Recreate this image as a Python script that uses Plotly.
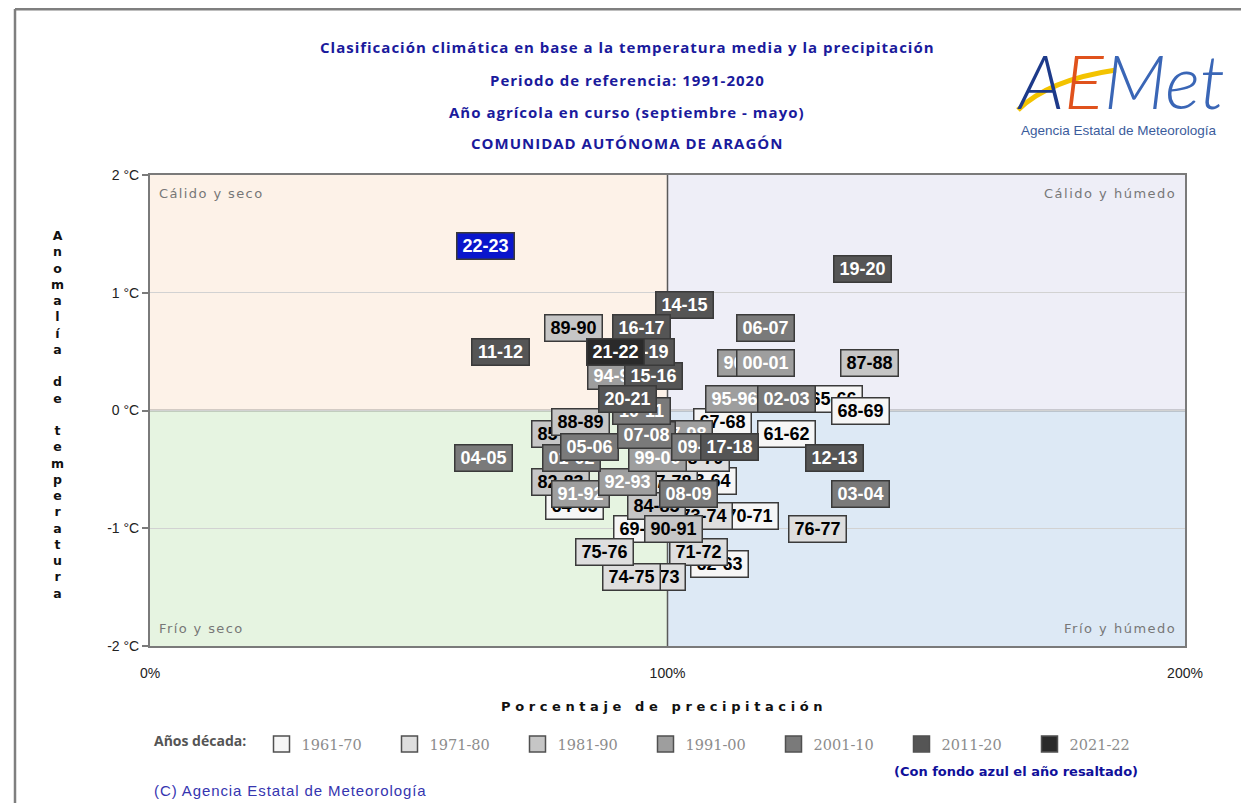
import plotly.graph_objects as go

# ---------------- data ----------------
years = ["61-62", "62-63", "63-64", "64-65", "65-66", "67-68", "68-69", "69-70", "70-71",
         "71-72", "72-73", "73-74", "74-75", "75-76", "76-77", "77-78", "78-79",
         "82-83", "84-85", "85-86", "87-88", "88-89", "89-90", "90-91",
         "91-92", "92-93", "94-95", "95-96", "96-97", "97-98", "99-00", "00-01",
         "01-02", "02-03", "03-04", "04-05", "05-06", "06-07", "07-08", "08-09", "09-10", "10-11",
         "11-12", "12-13", "14-15", "15-16", "16-17", "17-18", "18-19", "19-20", "20-21",
         "21-22", "22-23"]
precip_pct = [122.9, 110.1, 107.8, 82.1, 132.0, 110.7, 137.2, 95.1, 115.9,
              105.9, 97.8, 106.9, 93.1, 87.9, 128.9, 100.1, 106.3,
              79.4, 97.8, 79.4, 139.1, 83.1, 81.9, 101.1,
              83.1, 92.2, 90.2, 113.0, 115.2, 103.0, 98.0, 119.0,
              81.4, 122.9, 137.2, 64.5, 85.0, 119.0, 96.0, 104.0, 106.3, 94.9,
              67.8, 132.2, 103.2, 97.2, 94.9, 111.9, 95.8, 137.6, 92.2,
              90.0, 64.9]
temp_anom = [-0.20, -1.30, -0.60, -0.81, 0.10, -0.10, 0.00, -1.01, -0.90,
             -1.20, -1.41, -0.90, -1.41, -1.20, -1.01, -0.61, -0.40,
             -0.61, -0.81, -0.20, 0.40, -0.10, 0.70, -1.01,
             -0.71, -0.61, 0.29, 0.10, 0.40, -0.20, -0.40, 0.40,
             -0.40, 0.10, -0.71, -0.40, -0.31, 0.70, -0.21, -0.71, -0.31, 0.00,
             0.50, -0.40, 0.90, 0.29, 0.70, -0.31, 0.50, 1.20, 0.10,
             0.50, 1.40]
highlighted = "22-23"

decades = ["1961-70", "1971-80", "1981-90", "1991-00", "2001-10", "2011-20", "2021-22"]
decade_fill = ["#f6f6f6", "#dedede", "#c6c6c6", "#9e9e9e", "#7a7a7a", "#555555", "#2a2a2a"]
decade_text = ["#000000", "#000000", "#000000", "#ffffff", "#ffffff", "#ffffff", "#ffffff"]
highlight_fill = "#0a16cc"

y_ticks = [-2, -1, 0, 1, 2]
y_ticktext = ["-2 °C", "-1 °C", "0 °C", "1 °C", "2 °C"]
x_ticks = [0, 100, 200]
x_ticktext = ["0%", "100%", "200%"]

title_lines = ["Clasificación climática en base a la temperatura media y la precipitación",
               "Periodo de referencia: 1991-2020",
               "Año agrícola en curso (septiembre - mayo)",
               "COMUNIDAD AUTÓNOMA DE ARAGÓN"]
quadrants = ["Cálido y seco", "Cálido y húmedo", "Frío y seco", "Frío y húmedo"]

# ---------------- layout helpers (reference pixel -> paper) ----------------
PL, PR, PT, PB = 150, 1185, 175, 646


def px(x):
    return (x - PL) / (PR - PL)


def py(y):
    return (PB - y) / (PB - PT)


def spaced(text, sp):
    return f'<span style="letter-spacing:{sp}px">{text}</span>'


def decade_index(lbl):
    s = int(lbl[:2])
    yr = 1900 + s if s >= 50 else 2000 + s
    return min((yr - 1961) // 10, 6)


fig = go.Figure()

# legend entries
for name, fc in zip(decades, decade_fill):
    fig.add_trace(go.Scatter(x=[None], y=[None], mode="markers", name=name,
                             marker=dict(symbol="square", size=16, color=fc,
                                         line=dict(color="#505050", width=1.5))))

annotations = []
# labelled boxes, chronological order (later on top)
for lbl, xv, yv in zip(years, precip_pct, temp_anom):
    if lbl == highlighted:
        bg, fc = highlight_fill, "#ffffff"
    else:
        i = decade_index(lbl)
        bg, fc = decade_fill[i], decade_text[i]
    annotations.append(dict(x=xv, y=yv, xref="x", yref="y", text=f"<b>{lbl}</b>",
                            showarrow=False, bgcolor=bg, bordercolor="#3a3a3a",
                            borderwidth=1.5, borderpad=1, width=54, height=23,
                            xanchor="center", yanchor="middle",
                            font=dict(family="Liberation Sans", size=18, color=fc)))


def paper_text(x, y, text, font, xanchor="center"):
    return dict(x=px(x), y=py(y), xref="paper", yref="paper", text=text, showarrow=False,
                xanchor=xanchor, yanchor="middle", font=font)


# quadrant labels
qfont = dict(family="DejaVu Sans", size=13, color="#777777")
annotations += [
    paper_text(157, 193, spaced(quadrants[0], 1.4), qfont, "left"),
    paper_text(1178, 193, spaced(quadrants[1], 1.5), qfont, "right"),
    paper_text(157, 628, spaced(quadrants[2], 1.4), qfont, "left"),
    paper_text(1178, 628, spaced(quadrants[3], 1.5), qfont, "right"),
]

# titles
tfont = dict(family="Open Sans", size=15, color="#1a1a9c", weight="bold")
for line, yy in zip(title_lines, [47, 80, 112, 143]):
    annotations.append(paper_text(627, yy, spaced(line, 1.0), tfont))

# axis titles
ytitle = "Anomalía de temperatura"
ytitle_stack = "<br>".join(ch if ch != " " else "\u00a0" for ch in ytitle)
annotations.append(paper_text(57, 414, f"<b>{ytitle_stack}</b>",
                              dict(family="DejaVu Sans", size=12.5, color="#111111")))
annotations.append(paper_text(664, 706, "<b>" + spaced("Porcentaje de precipitación", 4.6) + "</b>",
                              dict(family="DejaVu Sans", size=13, color="#111111")))

# footer texts
annotations.append(paper_text(1016, 771, "(Con fondo azul el año resaltado)",
                              dict(family="DejaVu Sans", size=13, color="#10109a", weight="bold")))
annotations.append(paper_text(152, 790, spaced("(C) Agencia Estatal de Meteorología", 0.9),
                              dict(family="Liberation Sans", size=15, color="#3535b0"), "left"))

# logo
annotations.append(paper_text(1121, 80,
                              '<span style="color:#1d3a8a">A</span><span style="color:#e0521c">E</span>'
                              '<span style="color:#3a66b6">Met</span>',
                              dict(family="Lato", size=74, style="italic", weight=300)))
annotations.append(paper_text(1119, 130, "Agencia Estatal de Meteorología",
                              dict(family="Liberation Sans", size=13.5, color="#3b5c9c")))

shapes = [
    # quadrant backgrounds
    dict(type="rect", xref="x", yref="y", x0=0, x1=100, y0=0, y1=2, fillcolor="#fdf2e8",
         line=dict(width=0), layer="below"),
    dict(type="rect", xref="x", yref="y", x0=100, x1=200, y0=0, y1=2, fillcolor="#eeeef7",
         line=dict(width=0), layer="below"),
    dict(type="rect", xref="x", yref="y", x0=0, x1=100, y0=-2, y1=0, fillcolor="#e6f4e1",
         line=dict(width=0), layer="below"),
    dict(type="rect", xref="x", yref="y", x0=100, x1=200, y0=-2, y1=0, fillcolor="#dde9f5",
         line=dict(width=0), layer="below"),
    # centre cross
    dict(type="line", xref="x", yref="y", x0=100, x1=100, y0=-2, y1=2,
         line=dict(color="#5a5a5a", width=1.5), layer="below"),
    dict(type="line", xref="x", yref="y", x0=0, x1=200, y0=0, y1=0,
         line=dict(color="#5a5a5a", width=1.5), layer="below"),
    # outer frame
    dict(type="line", xref="paper", yref="paper", x0=px(15), x1=px(1260), y0=py(9), y1=py(9),
         line=dict(color="#7f7f7f", width=3)),
    dict(type="line", xref="paper", yref="paper", x0=px(15), x1=px(15), y0=py(9), y1=py(830),
         line=dict(color="#7f7f7f", width=2.5)),
    # logo swoosh
    dict(type="path", xref="paper", yref="paper",
         path=f"M {px(1018)},{py(110)} Q {px(1048)},{py(80)} {px(1116)},{py(70)}",
         line=dict(color="#f3c300", width=5)),
]

fig.update_layout(
    width=1233, height=795,
    margin=dict(l=PL - 8, r=1233 - (PR - 8), t=PT - 8, b=795 - (PB - 8), autoexpand=False),
    paper_bgcolor="#ffffff", plot_bgcolor="#ffffff",
    xaxis=dict(range=[0, 200], tickvals=x_ticks, ticktext=x_ticktext, showgrid=False, zeroline=False,
               showline=True, mirror=True, linecolor="#7a7a7a", linewidth=2, ticks="",
               ticklabelstandoff=13, tickfont=dict(family="Liberation Sans", size=14, color="#222222"),
               fixedrange=True),
    yaxis=dict(range=[-2, 2], tickvals=y_ticks, ticktext=y_ticktext, showgrid=True,
               gridcolor="#d2d2d2", gridwidth=1, zeroline=False,
               showline=True, mirror=True, linecolor="#7a7a7a", linewidth=2,
               ticks="outside", ticklen=6, tickcolor="#7a7a7a", tickwidth=1.5,
               tickfont=dict(family="Liberation Sans", size=14, color="#222222"),
               fixedrange=True),
    showlegend=True,
    legend=dict(orientation="h", x=px(152), xanchor="left", y=py(744), yanchor="middle",
                title=dict(text="Años década:\u00a0\u00a0", side="left",
                           font=dict(family="Open Sans", size=14, color="#555555", weight="bold")),
                font=dict(family="DejaVu Serif", size=14.5, color="#8c8c8c"),
                entrywidth=83, entrywidthmode="pixels", bgcolor="rgba(0,0,0,0)",
                itemclick=False, itemdoubleclick=False, traceorder="normal"),
    annotations=annotations,
    shapes=shapes,
)

fig.write_html("out.html")
